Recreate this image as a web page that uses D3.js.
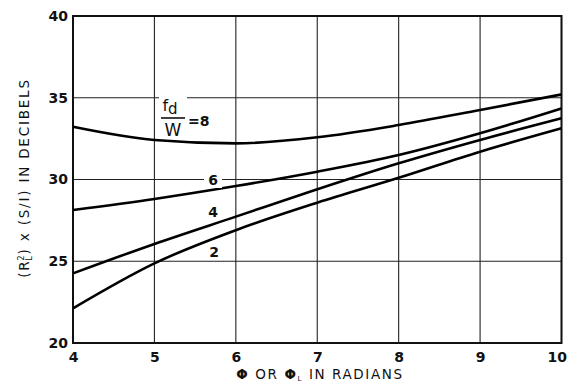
<!DOCTYPE html>
<html>
<head>
<meta charset="utf-8">
<script src="https://cdn.jsdelivr.net/npm/d3@7"></script>
<style>
  html, body { margin: 0; padding: 0; background: #fff; }
  svg { display: block; }
  text { font-family: "DejaVu Sans", sans-serif; fill: #111; }
</style>
</head>
<body>
<svg id="chart" width="567" height="384"></svg>
<script>
// Phase angle (radians) at which each curve is sampled
const phi = [4, 5, 6, 7, 8, 9, 10];

// (R_L^2) x (S/I) in dB for each value of fd/W
const snr8 = [33.23, 32.42, 32.21, 32.58, 33.33, 34.25, 35.2];
const snr6 = [28.13, 28.81, 29.6, 30.48, 31.5, 32.83, 34.35];
const snr4 = [24.26, 26.06, 27.73, 29.4, 30.99, 32.42, 33.74];
const snr2 = [22.12, 24.87, 26.9, 28.58, 30.1, 31.7, 33.13];

const xTicks = [4, 5, 6, 7, 8, 9, 10];
const yTicks = [20, 25, 30, 35, 40];

const curves = [
  { ratio: "8", values: snr8 },
  { ratio: "6", values: snr6 },
  { ratio: "4", values: snr4 },
  { ratio: "2", values: snr2 }
];

const margin = { top: 16, right: 5.5, bottom: 41, left: 73 };
const width = 567, height = 384;
const svg = d3.select("#chart");

const x = d3.scaleLinear().domain([4, 10]).range([margin.left, width - margin.right]);
const y = d3.scaleLinear().domain([20, 40]).range([height - margin.bottom, margin.top]);

// grid
const grid = svg.append("g").attr("stroke", "#222").attr("stroke-width", 1.1);
grid.selectAll("line.v").data(xTicks).join("line")
  .attr("x1", d => x(d)).attr("x2", d => x(d))
  .attr("y1", y(20)).attr("y2", y(40));
grid.selectAll("line.h").data(yTicks).join("line")
  .attr("x1", x(4)).attr("x2", x(10))
  .attr("y1", d => y(d)).attr("y2", d => y(d));

// frame
svg.append("rect")
  .attr("x", x(4)).attr("y", y(40))
  .attr("width", x(10) - x(4)).attr("height", y(20) - y(40))
  .attr("fill", "none").attr("stroke", "#111").attr("stroke-width", 2);

// axes (labels only, gridlines act as ticks)
const xAxis = d3.axisBottom(x).tickValues(xTicks).tickSize(0).tickPadding(9).tickFormat(d3.format("d"));
const yAxis = d3.axisLeft(y).tickValues(yTicks).tickSize(0).tickPadding(5).tickFormat(d3.format("d"));
const gx = svg.append("g").attr("transform", `translate(0,${y(20)})`).call(xAxis);
const gy = svg.append("g").attr("transform", `translate(${x(4)},0)`).call(yAxis);
[gx, gy].forEach(g => {
  g.select(".domain").remove();
  g.selectAll("text").style("font-family", "'DejaVu Sans', sans-serif")
    .style("font-size", "14px").style("font-weight", "bold").attr("fill", "#111");
});
// last x label sits flush with the right edge
gx.selectAll(".tick").filter(d => d === 10).select("text")
  .attr("text-anchor", "end").attr("dx", 5);

// curves
const line = d3.line()
  .x((d, i) => x(phi[i]))
  .y(d => y(d))
  .curve(d3.curveMonotoneX);
svg.append("g").selectAll("path").data(curves).join("path")
  .attr("d", d => line(d.values))
  .attr("fill", "none").attr("stroke", "#000").attr("stroke-width", 2.6);

// curve labels (white backing breaks the gridline behind them)
function label(tx, ty, txt) {
  svg.append("rect").attr("x", tx - 9).attr("y", ty - 12).attr("width", 18).attr("height", 15).attr("fill", "#fff");
  svg.append("text").attr("x", tx).attr("y", ty).attr("text-anchor", "middle")
    .style("font-size", "14px").style("font-weight", "bold").text(txt);
}
label(213, 185, "6");
label(213, 217, "4");
label(214, 257, "2");

// fd/W = 8 label
const fl = svg.append("g");
fl.append("rect").attr("x", 159).attr("y", 93).attr("width", 28).attr("height", 12).attr("fill", "#fff");
fl.append("text").attr("x", 170).attr("y", 111).attr("text-anchor", "middle").style("font-size", "16px")
  .text("f").append("tspan").attr("dy", 3).style("font-size", "15px").text("d");
fl.append("line").attr("x1", 161).attr("x2", 185).attr("y1", 118).attr("y2", 118)
  .attr("stroke", "#111").attr("stroke-width", 1.6);
fl.append("text").attr("x", 173).attr("y", 136).attr("text-anchor", "middle").style("font-size", "17px").text("W");
fl.append("text").attr("x", 188).attr("y", 126).style("font-size", "14px").style("font-weight", "bold").text("=8");

// x-axis title
const xt = svg.append("text").attr("x", 320).attr("y", 379).attr("text-anchor", "middle")
  .style("font-size", "13.5px").style("letter-spacing", "1.6px");
xt.append("tspan").style("font-weight", "bold").text("\u03A6");
xt.append("tspan").text(" OR ");
xt.append("tspan").style("font-weight", "bold").text("\u03A6");
xt.append("tspan").attr("dy", 2).style("font-size", "7px").text("L");
xt.append("tspan").attr("dy", -2).text("  IN RADIANS");

// y-axis title
const yt = svg.append("text").attr("transform", "translate(29,178) rotate(-90)")
  .attr("text-anchor", "middle").style("font-size", "13.5px").style("letter-spacing", "1.8px");
yt.append("tspan").text("(R");
yt.append("tspan").attr("dy", -5).attr("dx", -1).style("font-size", "8px").text("2");
yt.append("tspan").attr("dy", 8).attr("dx", -7).style("font-size", "8px").text("L");
yt.append("tspan").attr("dy", -3).text(") x (S/I)  IN DECIBELS");
</script>
</body>
</html>
